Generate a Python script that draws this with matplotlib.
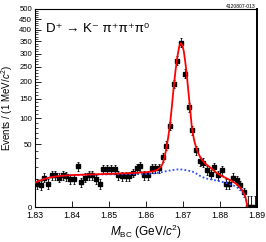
import numpy as np
import matplotlib
matplotlib.use("Agg")
import matplotlib.pyplot as plt
from matplotlib.ticker import FixedLocator, NullFormatter

plt.rcParams['font.family'] = ['Liberation Sans', 'DejaVu Sans']
plt.rcParams['mathtext.fontset'] = 'custom'
plt.rcParams['mathtext.rm'] = 'Liberation Sans'
plt.rcParams['mathtext.it'] = 'Liberation Sans:italic'
plt.rcParams['mathtext.bf'] = 'Liberation Sans:bold'

# ---- data: 1 MeV bins from 1.830 to 1.890 GeV ----
bin_lo = 1.830
bin_width = 0.001
counts = [7, 6, 11, 7, 13, 13, 11, 13, 12, 10,
          10, 21, 8, 11, 13, 13, 10, 7, 18, 18,
          18, 18, 13, 12, 12, 12, 15, 19, 21, 13,
          13, 19, 19, 19, 32, 48, 84, 193, 273, 344,
          227, 127, 75, 41, 27, 25, 17, 14, 20, 13,
          17, 7, 7, 11, 9, 6, 3, 0, 0, 0]

# ---- fit curves ----
fit_m = [1.8300, 1.8310, 1.8320, 1.8330, 1.8340, 1.8350, 1.8370, 1.8400, 1.8450,
         1.8500, 1.8550, 1.8600, 1.8620, 1.8630, 1.8640, 1.8645, 1.8650, 1.8655,
         1.8660, 1.8665, 1.8670, 1.8675, 1.8680, 1.8685, 1.8690, 1.8694, 1.8698,
         1.8702, 1.8706, 1.8710, 1.8715, 1.8720, 1.8724, 1.8730, 1.8735, 1.8741,
         1.8750, 1.8760, 1.8770, 1.8780, 1.8790, 1.8800, 1.8810, 1.8820, 1.8830,
         1.8840, 1.8850, 1.8860, 1.8865, 1.8870, 1.8874]
fit_v = [7.5, 8.6, 9.6, 10.4, 11.1, 11.6, 12.4, 13.0, 13.5,
         14.0, 14.5, 15.4, 16.3, 17.5, 20.5, 24, 31, 44,
         62, 88, 130, 185, 240, 290, 330, 342, 335,
         310, 270, 225, 165, 115, 80, 57, 46, 37,
         29, 24, 21, 18, 15, 13, 11.5, 10.2, 8.9,
         7.5, 5.8, 3.6, 2.3, 0.9, 0.0]

bkg_m = [1.8300, 1.8310, 1.8320, 1.8330, 1.8340, 1.8350, 1.8370, 1.8400, 1.8450,
         1.8500, 1.8550, 1.8600, 1.8620, 1.8640, 1.8660, 1.8680, 1.8690, 1.8700,
         1.8715, 1.8730, 1.8745, 1.8760, 1.8780, 1.8800, 1.8820, 1.8840, 1.8850,
         1.8860, 1.8865, 1.8870, 1.8874]
bkg_v = [7.5, 8.6, 9.6, 10.4, 11.1, 11.6, 12.4, 13.0, 13.4,
         13.6, 13.7, 13.9, 14.4, 15.3, 16.7, 17.9, 18.1, 17.8,
         16.8, 15.5, 12.5, 10.5, 9.5, 8.4, 7.2, 5.6, 4.5,
         3.0, 2.1, 1.0, 0.0]

xticks = [1.83, 1.84, 1.85, 1.86, 1.87, 1.88, 1.89]
yticks = [0, 50, 100, 150, 200, 250, 300, 350, 400, 450, 500]

fig = plt.figure(figsize=(2.66, 2.42), dpi=100)
ax = fig.add_axes([0.1316, 0.1446, 0.8346, 0.8184])
ax.set_yscale('function', functions=(lambda y: np.sqrt(np.clip(y, 0, None)), lambda y: y ** 2))

counts = np.array(counts, dtype=float)
centers = bin_lo + bin_width * (np.arange(len(counts)) + 0.5)
err_lo = np.sqrt(counts)
err_hi = np.where(counts > 0, np.sqrt(counts), 1.6)

ax.errorbar(centers, counts, yerr=[err_lo, err_hi], xerr=bin_width / 2,
            fmt='s', color='black', ms=2.2, elinewidth=0.6, capsize=1.0,
            capthick=0.6, zorder=3)

ax.plot(bkg_m, bkg_v, color='#2f4dff', lw=1.3, ls=(0, (1, 1.2)), zorder=4)
ax.plot(fit_m, fit_v, color='#ff0000', lw=1.3, zorder=5)

ax.set_xlim(1.83, 1.89)
ax.set_ylim(0, 500)
ax.xaxis.set_major_locator(FixedLocator(xticks))
ax.xaxis.set_minor_locator(FixedLocator(np.arange(1.83, 1.8901, 0.002)))
ax.set_xticklabels([f"{t:.2f}" for t in xticks])
ax.yaxis.set_major_locator(FixedLocator(yticks))
ax.yaxis.set_minor_locator(FixedLocator(np.arange(0, 501, 10)))
ax.yaxis.set_minor_formatter(NullFormatter())
ax.set_yticklabels([str(t) for t in yticks])

ax.tick_params(axis='both', which='both', direction='in', top=False, right=False)
ax.tick_params(axis='x', which='major', length=4, width=0.6, labelsize=6.3, pad=3)
ax.tick_params(axis='x', which='minor', length=0)
ax.tick_params(axis='y', which='major', length=4, width=0.6, labelsize=5.6, pad=2)
ax.tick_params(axis='y', which='minor', length=2, width=0.5)
for s in ax.spines.values():
    s.set_linewidth(0.8)
ax.spines['right'].set_linewidth(1.4)

ax.set_xlabel(r"$M_{\rm BC}$ (GeV/$c^2$)", fontsize=8.5, labelpad=2)
ax.set_ylabel(r"Events / (1 MeV/$c^2$)", fontsize=7.0, labelpad=3)

ax.text(0.05, 0.93, "D\u207a \u2192 K\u207b \u03c0\u207a\u03c0\u207a\u03c0\u2070", transform=ax.transAxes,
        fontsize=9.5, ha='left', va='top')
fig.text(0.962, 0.985, "4120807-013", fontsize=3.6, ha='right', va='top')

fig.savefig("out.png", dpi=100)
